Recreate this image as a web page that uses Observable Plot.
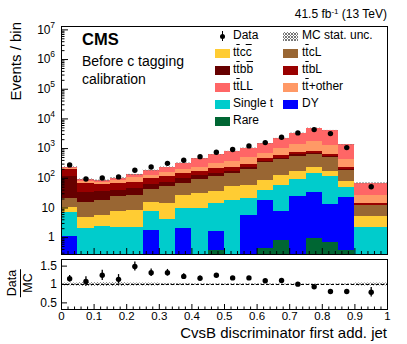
<!DOCTYPE html>
<html>
<head>
<meta charset="utf-8">
<script src="https://cdn.jsdelivr.net/npm/d3@7"></script>
<script src="https://cdn.jsdelivr.net/npm/@observablehq/plot@0.6"></script>
<style>
  html, body { margin: 0; padding: 0; background: #fff; }
  #root { position: relative; width: 407px; height: 344px; overflow: hidden;
          font-family: "Liberation Sans", Arial, Helvetica, sans-serif; color: #000; }
  .t { position: absolute; white-space: nowrap; line-height: 1; }
  .o { text-decoration: overline; }
  .sw { position: absolute; width: 15px; height: 9px; }
</style>
</head>
<body>
<svg width="0" height="0" style="position:absolute">
  <defs>
    <pattern id="hatch" patternUnits="userSpaceOnUse" width="3" height="3">
      <path d="M0,3 L3,0 M0,0 L3,3" stroke="#6e6e6e" stroke-width="0.7" fill="none"/>
    </pattern>
  </defs>
</svg>
<div id="root"></div>
<script>
// ---- data ----
const edges = [0, 0.05, 0.1, 0.15, 0.2, 0.25, 0.3, 0.35, 0.4, 0.45, 0.5, 0.55, 0.6, 0.65, 0.7, 0.75, 0.8, 0.85, 0.9, 1.0];
const rare    = [0.05, 0, 0, 0, 0, 0.05, 0, 0, 0, 0.37, 0, 0, 0.42, 0.79, 0, 0.9, 0.69, 0.36, 0.05];
const dy      = [1.05, 0.1, 0.1, 0.1, 0.1, 1.67, 0.1, 1.96, 0.1, 1.25, 0.1, 5.5, 17.3, 7.0, 25, 32.7, 12.2, 21.4, 0.1];
const singleT = [6.03, 1.86, 2.34, 2.02, 2.02, 6.1, 3.94, 7.26, 9.5, 12.1, 18.2, 15.6, 20.7, 48.8, 65.2, 106, 101, 27.8, 2.0];
const ttcc    = [3.17, 2.82, 3.28, 5.3, 5.9, 7.7, 10.5, 16.8, 20, 23.2, 34, 35.5, 45, 66.4, 84, 83, 58, 29.4, 3.0];
const ttcL    = [11.1, 10.9, 11.9, 16.0, 18.6, 26.7, 37.8, 41.5, 60.5, 77, 91.6, 147, 247, 303, 384, 404, 336, 102, 6.6];
const ttbb    = [92.6, 17.9, 17.8, 14.9, 19.2, 17.5, 20.7, 27.5, 29.8, 33, 30, 25, 35, 52, 69, 51, 29, 15, 0.8];
const ttbL    = [82, 30.9, 24.2, 26.1, 27.2, 35.4, 42.9, 44.9, 48, 60, 60, 53, 85, 102, 106, 145, 90, 27, 1.8];
const ttOther = [21, 12.7, 13.4, 18.9, 34.9, 28, 36, 51, 66, 98, 139, 204, 212, 420, 629, 899, 635, 193, 11.8];
const ttLL    = [17, 13, 10.3, 16.3, 22, 58, 82, 128, 216, 308, 419, 537, 777, 1172, 1965, 3108, 2774, 915, 41.5];
const mcUnc   = [0.04, 0.05, 0.05, 0.05, 0.04, 0.04, 0.03, 0.03, 0.02, 0.02, 0.02, 0.02, 0.02, 0.015, 0.015, 0.015, 0.015, 0.02, 0.04];
const dataVals = [282, 95, 103, 111, 186, 240, 318, 405, 535, 750, 930, 1230, 1590, 2400, 3380, 4370, 3200, 1080, 52];
const ratioVals = [1.156, 1.08, 1.25, 1.14, 1.49, 1.32, 1.32, 1.22, 1.17, 1.25, 1.18, 1.18, 1.10, 1.11, 1.01, 0.94, 0.81, 0.81, 0.79];
const ratioErr  = [0.09, 0.13, 0.14, 0.13, 0.12, 0.10, 0.09, 0.07, 0.06, 0.05, 0.04, 0.04, 0.03, 0.03, 0.02, 0.02, 0.02, 0.03, 0.13];
const yMajor = [1, 10, 100, 1e3, 1e4, 1e5, 1e6, 1e7];
const ratioTicks = [0.5, 1, 1.5];
const xTicks = [0, 0.1, 0.2, 0.3, 0.4, 0.5, 0.6, 0.7, 0.8, 0.9, 1];
const lumiText = "41.5 fb<sup>-1</sup> (13 TeV)";
const xTitle = "CvsB discriminator first add. jet";
const yTitle = "Events / bin";

const comps = [
  {name: "Rare", values: rare, color: "#006633"},
  {name: "DY", values: dy, color: "#0000ff"},
  {name: "Single t", values: singleT, color: "#00cccc"},
  {name: "ttcc", values: ttcc, color: "#ffcc33"},
  {name: "ttcL", values: ttcL, color: "#996633"},
  {name: "ttbb", values: ttbb, color: "#660000"},
  {name: "ttbL", values: ttbL, color: "#990000"},
  {name: "tt+other", values: ttOther, color: "#ff9966"},
  {name: "ttLL", values: ttLL, color: "#ff6666"}
];

const legendItems = [
  {html: "Data", kind: "data", col: 0, row: 0},
  {html: "MC stat. unc.", kind: "hatch", col: 1, row: 0},
  {html: 't<span class="o">t</span>c<span class="o">c</span>', color: "#ffcc33", col: 0, row: 1},
  {html: 't<span class="o">t</span>cL', color: "#996633", col: 1, row: 1},
  {html: 't<span class="o">t</span>b<span class="o">b</span>', color: "#660000", col: 0, row: 2},
  {html: 't<span class="o">t</span>bL', color: "#990000", col: 1, row: 2},
  {html: 't<span class="o">t</span>LL', color: "#ff6666", col: 0, row: 3},
  {html: 't<span class="o">t</span>+other', color: "#ff9966", col: 1, row: 3},
  {html: "Single t", color: "#00cccc", col: 0, row: 4},
  {html: "DY", color: "#0000ff", col: 1, row: 4},
  {html: "Rare", color: "#006633", col: 0, row: 5}
];

// ---- build ----
const font = "Liberation Sans, Arial, Helvetica, sans-serif";
const W = 407, ML = 61, MR = 20;
const FW = W - ML - MR;
const yMin = 0.27, yMax = 1.3e7;
const mainTop = 26, mainH = 228;

const nb = edges.length - 1;
const bins = d3.range(nb).map(i => ({i, x1: edges[i], x2: edges[i + 1], xc: (edges[i] + edges[i + 1]) / 2}));
const rects = [];
const totals = [];
for (const b of bins) {
  let cum = 0;
  for (const c of comps) {
    const lo = cum;
    cum += c.values[b.i];
    rects.push({x1: b.x1, x2: b.x2, y1: Math.max(lo, yMin), y2: Math.max(cum, yMin), fill: c.color});
  }
  totals.push(cum);
}

const yMinor = [];
for (let e = -1; e <= 7; e++) for (let k = 2; k <= 9; k++) {
  const v = k * Math.pow(10, e);
  if (v > yMin && v < yMax) yMinor.push(v);
}
const xMinor = d3.range(0, 51).map(k => k * 0.02).filter(v => !xTicks.some(t => Math.abs(t - v) < 1e-9));
const sup = {2: "2", 3: "3", 4: "4", 5: "5", 6: "6", 7: "7"};

const main = Plot.plot({
  width: W, height: mainTop + mainH + 2,
  marginLeft: ML, marginRight: MR, marginTop: mainTop, marginBottom: 2,
  style: {fontFamily: font, background: "transparent", overflow: "visible"},
  x: {domain: [0, 1], axis: null},
  y: {type: "log", domain: [yMin, yMax], axis: null},
  color: {type: "identity"},
  marks: [
    Plot.rect(rects, {x1: "x1", x2: "x2", y1: "y1", y2: "y2", fill: "fill", shapeRendering: "crispEdges"}),
    Plot.rect(bins, {x1: "x1", x2: "x2", y1: d => totals[d.i] * (1 - mcUnc[d.i]), y2: d => totals[d.i] * (1 + mcUnc[d.i]), fill: "url(#hatch)"}),
    Plot.dot(bins, {x: "xc", y: d => dataVals[d.i], r: 2.7, fill: "black", stroke: "none"}),
    Plot.ruleY(yMajor, {insetRight: FW - 7, stroke: "black", strokeWidth: 1}),
    Plot.ruleY(yMinor, {insetRight: FW - 3.5, stroke: "black", strokeWidth: 1}),
    Plot.ruleX(xTicks, {insetTop: mainH - 6, stroke: "black", strokeWidth: 1}),
    Plot.ruleX(xMinor, {insetTop: mainH - 3, stroke: "black", strokeWidth: 1}),
    Plot.text(yMajor.filter(v => v < 100), {y: d => d, text: d => String(d), frameAnchor: "left", textAnchor: "end", dx: -6.7, fontSize: 12, fill: "black"}),
    Plot.text(yMajor.filter(v => v >= 100), {y: d => d, text: () => "10", frameAnchor: "left", textAnchor: "end", dx: -11, fontSize: 12, fill: "black"}),
    Plot.text(yMajor.filter(v => v >= 100), {y: d => d, text: d => sup[Math.round(Math.log10(d))], frameAnchor: "left", textAnchor: "end", dx: -6.5, dy: -5, fontSize: 8.5, fill: "black"}),
    Plot.frame({stroke: "black", strokeWidth: 1})
  ]
});

const rTop = 254, rMT = 5, rH = 50, rMB = 35;
const ratio = Plot.plot({
  width: W, height: rMT + rH + rMB,
  marginLeft: ML, marginRight: MR, marginTop: rMT, marginBottom: rMB,
  style: {fontFamily: font, background: "transparent", overflow: "visible"},
  x: {domain: [0, 1], axis: null},
  y: {domain: [0.32, 1.68], axis: null},
  marks: [
    Plot.rect(bins, {x1: "x1", x2: "x2", y1: d => 1 - mcUnc[d.i], y2: d => 1 + mcUnc[d.i], fill: "url(#hatch)"}),
    Plot.ruleY([1], {stroke: "black", strokeWidth: 1, strokeDasharray: "3,2"}),
    Plot.ruleX(bins, {x: "xc", y1: d => ratioVals[d.i] - ratioErr[d.i], y2: d => ratioVals[d.i] + ratioErr[d.i], stroke: "black", strokeWidth: 1.3}),
    Plot.dot(bins, {x: "xc", y: d => ratioVals[d.i], r: 2.7, fill: "black", stroke: "none"}),
    Plot.ruleY(ratioTicks, {insetRight: FW - 6, stroke: "black", strokeWidth: 1}),
    Plot.ruleX(xTicks, {insetTop: rH - 5, stroke: "black", strokeWidth: 1}),
    Plot.ruleX(xMinor, {insetTop: rH - 2.5, stroke: "black", strokeWidth: 1}),
    Plot.text(ratioTicks, {y: d => d, text: d => String(d), frameAnchor: "left", textAnchor: "end", dx: -4.5, fontSize: 12, fill: "black"}),
    Plot.text(xTicks, {x: d => d, text: d => String(d), frameAnchor: "bottom", lineAnchor: "top", dy: 2, fontSize: 11.5, fill: "black"}),
    Plot.frame({stroke: "black", strokeWidth: 1})
  ]
});

const root = document.getElementById("root");
main.style.position = "absolute"; main.style.top = "0px"; main.style.left = "0px";
ratio.style.position = "absolute"; ratio.style.top = rTop + "px"; ratio.style.left = "0px";
root.appendChild(main);
root.appendChild(ratio);

function addText(html, css) {
  const d = document.createElement("div");
  d.className = "t";
  d.innerHTML = html;
  Object.assign(d.style, css);
  root.appendChild(d);
  return d;
}

// header texts
addText(lumiText, {right: (W - 387) + "px", top: "8px", fontSize: "12px"});
root.querySelectorAll("sup").forEach(s => { s.style.fontSize = "8px"; s.style.verticalAlign = "4px"; s.style.lineHeight = "0"; });
addText("CMS", {left: "82px", top: "31px", fontSize: "16.5px", fontWeight: "bold"});
addText("Before c tagging", {left: "82px", top: "54px", fontSize: "14px"});
addText("calibration", {left: "82px", top: "72px", fontSize: "14px"});

// legend
const colSw = [215, 283], colTx = [233, 302];
for (const it of legendItems) {
  const cy = 36 + 17 * it.row;
  if (it.kind === "data") {
    const dot = document.createElement("div");
    Object.assign(dot.style, {position: "absolute", left: (222 - 2.5) + "px", top: (cy - 2.5) + "px", width: "5px", height: "5px", borderRadius: "50%", background: "#000"});
    const bar = document.createElement("div");
    Object.assign(bar.style, {position: "absolute", left: "221.5px", top: (cy - 5) + "px", width: "1px", height: "10px", background: "#000"});
    root.appendChild(bar); root.appendChild(dot);
  } else {
    const sw = document.createElement("div");
    sw.className = "sw";
    sw.style.left = colSw[it.col] + "px";
    sw.style.top = (cy - 4.5) + "px";
    if (it.kind === "hatch") {
      sw.style.background = "repeating-linear-gradient(45deg, #777 0 0.8px, transparent 0.8px 2.2px), repeating-linear-gradient(-45deg, #777 0 0.8px, #fff 0.8px 2.2px)";
    } else {
      sw.style.background = it.color;
    }
    root.appendChild(sw);
  }
  addText(it.html, {left: colTx[it.col] + "px", top: (cy - 7) + "px", fontSize: "12px"});
}

// axis titles
addText(xTitle, {right: (W - 387) + "px", top: "324.5px", fontSize: "15px"});
const yt = addText(yTitle, {left: "15px", top: "22px", fontSize: "15px"});
yt.style.transformOrigin = "0 0";
yt.style.transform = "rotate(-90deg) translate(-100%, -50%)";
// ratio title: Data over MC
const rt = document.createElement("div");
rt.className = "t";
rt.style.left = "20px"; rt.style.top = "283px";
rt.style.fontSize = "12.5px";
rt.style.transformOrigin = "0 0";
rt.style.transform = "rotate(-90deg) translate(-50%, -50%)";
rt.style.textAlign = "center";
rt.innerHTML = '<div style="border-bottom:1px solid #000;padding:0 1px 1px 1px;line-height:1">Data</div><div style="line-height:1;padding-top:1px">MC</div>';
root.appendChild(rt);
</script>
</body>
</html>
